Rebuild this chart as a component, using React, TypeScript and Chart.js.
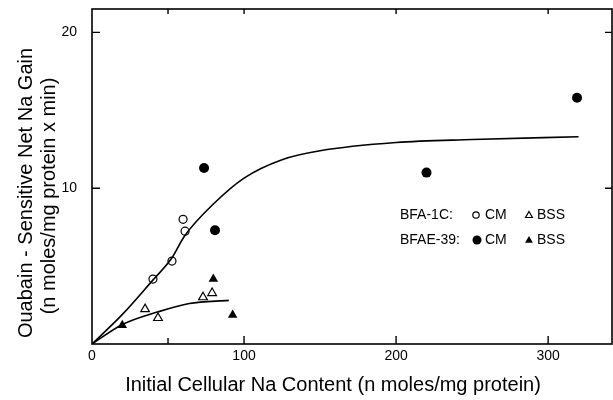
import React, { useEffect, useRef } from 'react';
import { Chart, registerables } from 'chart.js';

Chart.register(...registerables);

// ---- Data ----
const X_MIN = 0;
const X_MAX = 342;
const Y_MIN = 0;
const Y_MAX = 21.5;

const X_TICKS = [0, 100, 200, 300];
const X_MINOR_TICKS = [50];
const Y_TICKS = [10, 20];

// fitted curve through CM points
const cmCurveX = [0, 20, 40, 52, 61, 80, 100, 125, 150, 200, 250, 320];
const cmCurveY = [0, 1.9, 4.1, 5.45, 6.95, 9.0, 10.65, 11.83, 12.4, 12.93, 13.12, 13.3];

// fitted curve through BSS points
const bssCurveX = [0, 20, 43, 64, 90];
const bssCurveY = [0, 1.25, 2.05, 2.6, 2.8];

// BFA-1C, CM (open circles)
const bfa1cCmX = [40.1, 52.6, 59.9, 61.2];
const bfa1cCmY = [4.17, 5.32, 8.0, 7.24];

// BFAE-39, CM (filled circles)
const bfae39CmX = [73.7, 80.9, 220, 319];
const bfae39CmY = [11.3, 7.3, 11.0, 15.8];

// BFA-1C, BSS (open triangles)
const bfa1cBssX = [34.9, 43.4, 73, 79];
const bfa1cBssY = [2.24, 1.67, 3.0, 3.27];

// BFAE-39, BSS (filled triangles)
const bfae39BssX = [19.9, 79.8, 92.5];
const bfae39BssY = [1.2, 4.17, 1.86];

const X_TITLE = 'Initial Cellular Na Content (n moles/mg protein)';
const Y_TITLE_1 = 'Ouabain - Sensitive Net Na Gain';
const Y_TITLE_2 = '(n moles/mg protein x min)';

const LEGEND_ROWS = [
  { label: 'BFA-1C:', cm: 'CM', bss: 'BSS', filled: false },
  { label: 'BFAE-39:', cm: 'CM', bss: 'BSS', filled: true },
];

const FONT = '"Liberation Sans", Arial, Helvetica, sans-serif';

const zip = (xs: number[], ys: number[]) => xs.map((x, i) => ({ x, y: ys[i] }));

function drawTriangle(ctx: CanvasRenderingContext2D, x: number, y: number, r: number, filled: boolean) {
  ctx.beginPath();
  ctx.moveTo(x, y - r);
  ctx.lineTo(x + r * 0.866, y + r * 0.5);
  ctx.lineTo(x - r * 0.866, y + r * 0.5);
  ctx.closePath();
  if (filled) {
    ctx.fillStyle = '#000';
    ctx.fill();
  } else {
    ctx.fillStyle = '#fff';
    ctx.fill();
    ctx.lineWidth = 1.2;
    ctx.strokeStyle = '#000';
    ctx.stroke();
  }
}

const framePlugin = {
  id: 'frameAndTitles',
  afterDraw(chart: any) {
    const { ctx, chartArea } = chart;
    const xs = chart.scales.x;
    const ys = chart.scales.y;
    const { left, right, top, bottom } = chartArea;
    ctx.save();
    ctx.strokeStyle = '#000';
    ctx.lineWidth = 1.6;
    ctx.strokeRect(left, top, right - left, bottom - top);

    ctx.lineWidth = 1.4;
    ctx.beginPath();
    // bottom & top ticks (inward)
    X_TICKS.forEach((v) => {
      if (v === X_MIN) return;
      const px = xs.getPixelForValue(v);
      ctx.moveTo(px, bottom);
      ctx.lineTo(px, bottom - 8);
      ctx.moveTo(px, top);
      ctx.lineTo(px, top + 5);
    });
    X_MINOR_TICKS.forEach((v) => {
      const px = xs.getPixelForValue(v);
      ctx.moveTo(px, bottom);
      ctx.lineTo(px, bottom - 6);
      ctx.moveTo(px, top);
      ctx.lineTo(px, top + 5);
    });
    // left & right ticks (inward)
    Y_TICKS.forEach((v) => {
      const py = ys.getPixelForValue(v);
      ctx.moveTo(left, py);
      ctx.lineTo(left + 8, py);
      ctx.moveTo(right, py);
      ctx.lineTo(right - 7, py);
    });
    ctx.stroke();

    // tick labels
    ctx.fillStyle = '#000';
    ctx.font = `14px ${FONT}`;
    ctx.textAlign = 'center';
    ctx.textBaseline = 'middle';
    X_TICKS.forEach((v) => {
      ctx.fillText(String(v), xs.getPixelForValue(v), bottom + 12);
    });
    ctx.textAlign = 'right';
    Y_TICKS.forEach((v) => {
      ctx.fillText(String(v), left - 15, ys.getPixelForValue(v));
    });

    // axis titles
    ctx.font = `20px ${FONT}`;
    ctx.textAlign = 'center';
    ctx.textBaseline = 'middle';
    ctx.fillText(X_TITLE, 333, 385);

    ctx.save();
    ctx.translate(26, 193);
    ctx.rotate(-Math.PI / 2);
    ctx.fillText(Y_TITLE_1, 0, 0);
    ctx.restore();
    ctx.save();
    ctx.translate(49, 196);
    ctx.rotate(-Math.PI / 2);
    ctx.fillText(Y_TITLE_2, 0, 0);
    ctx.restore();

    // legend
    ctx.font = `14px ${FONT}`;
    ctx.textAlign = 'left';
    ctx.textBaseline = 'middle';
    LEGEND_ROWS.forEach((row, i) => {
      const y = 215 + i * 25;
      ctx.fillStyle = '#000';
      ctx.fillText(row.label, 400, y);
      ctx.beginPath();
      if (row.filled) {
        ctx.arc(477, y, 4.5, 0, Math.PI * 2);
        ctx.fillStyle = '#000';
        ctx.fill();
      } else {
        ctx.arc(476, y, 3.2, 0, Math.PI * 2);
        ctx.lineWidth = 1.2;
        ctx.strokeStyle = '#000';
        ctx.stroke();
      }
      ctx.fillStyle = '#000';
      ctx.fillText(row.cm, 485, y);
      drawTriangle(ctx, 529, y + 0.5, row.filled ? 4.5 : 4, row.filled);
      ctx.fillStyle = '#000';
      ctx.fillText(row.bss, 537, y);
    });
    ctx.restore();
  },
};

export default function App() {
  const canvasRef = useRef<HTMLCanvasElement | null>(null);

  useEffect(() => {
    document.body.style.margin = '0';
    const canvas = canvasRef.current;
    if (!canvas) return;
    const chart = new Chart(canvas, {
      type: 'scatter',
      data: {
        datasets: [
          {
            label: 'CM fit',
            data: zip(cmCurveX, cmCurveY),
            showLine: true,
            borderColor: '#000',
            borderWidth: 1.6,
            pointRadius: 0,
            cubicInterpolationMode: 'monotone',
            fill: false,
          },
          {
            label: 'BSS fit',
            data: zip(bssCurveX, bssCurveY),
            showLine: true,
            borderColor: '#000',
            borderWidth: 1.6,
            pointRadius: 0,
            cubicInterpolationMode: 'monotone',
            fill: false,
          },
          {
            label: 'BFA-1C CM',
            data: zip(bfa1cCmX, bfa1cCmY),
            pointStyle: 'circle',
            pointRadius: 4,
            backgroundColor: '#fff',
            borderColor: '#000',
            borderWidth: 1.2,
          },
          {
            label: 'BFAE-39 CM',
            data: zip(bfae39CmX, bfae39CmY),
            pointStyle: 'circle',
            pointRadius: 5,
            backgroundColor: '#000',
            borderColor: '#000',
            borderWidth: 0,
          },
          {
            label: 'BFA-1C BSS',
            data: zip(bfa1cBssX, bfa1cBssY),
            pointStyle: 'triangle',
            pointRadius: 5,
            backgroundColor: '#fff',
            borderColor: '#000',
            borderWidth: 1.2,
          },
          {
            label: 'BFAE-39 BSS',
            data: zip(bfae39BssX, bfae39BssY),
            pointStyle: 'triangle',
            pointRadius: 5.5,
            backgroundColor: '#000',
            borderColor: '#000',
            borderWidth: 0,
          },
        ],
      },
      options: {
        animation: false,
        responsive: true,
        maintainAspectRatio: false,
        layout: { autoPadding: false, padding: { top: 9, right: 1, left: 0, bottom: 0 } },
        plugins: {
          legend: { display: false },
          tooltip: { enabled: false },
          title: { display: false },
        },
        scales: {
          x: {
            type: 'linear',
            min: X_MIN,
            max: X_MAX,
            grid: { display: false, drawTicks: false },
            border: { display: false },
            ticks: { display: false },
            afterFit: (s: any) => {
              s.height = 56;
            },
          },
          y: {
            type: 'linear',
            min: Y_MIN,
            max: Y_MAX,
            grid: { display: false, drawTicks: false },
            border: { display: false },
            ticks: { display: false },
            afterFit: (s: any) => {
              s.width = 92;
            },
          },
        },
      } as any,
      plugins: [framePlugin],
    });
    return () => chart.destroy();
  }, []);

  return (
    <div style={{ position: 'absolute', left: 0, top: 0, width: 613, height: 400, background: '#fff' }}>
      <canvas ref={canvasRef} />
    </div>
  );
}
